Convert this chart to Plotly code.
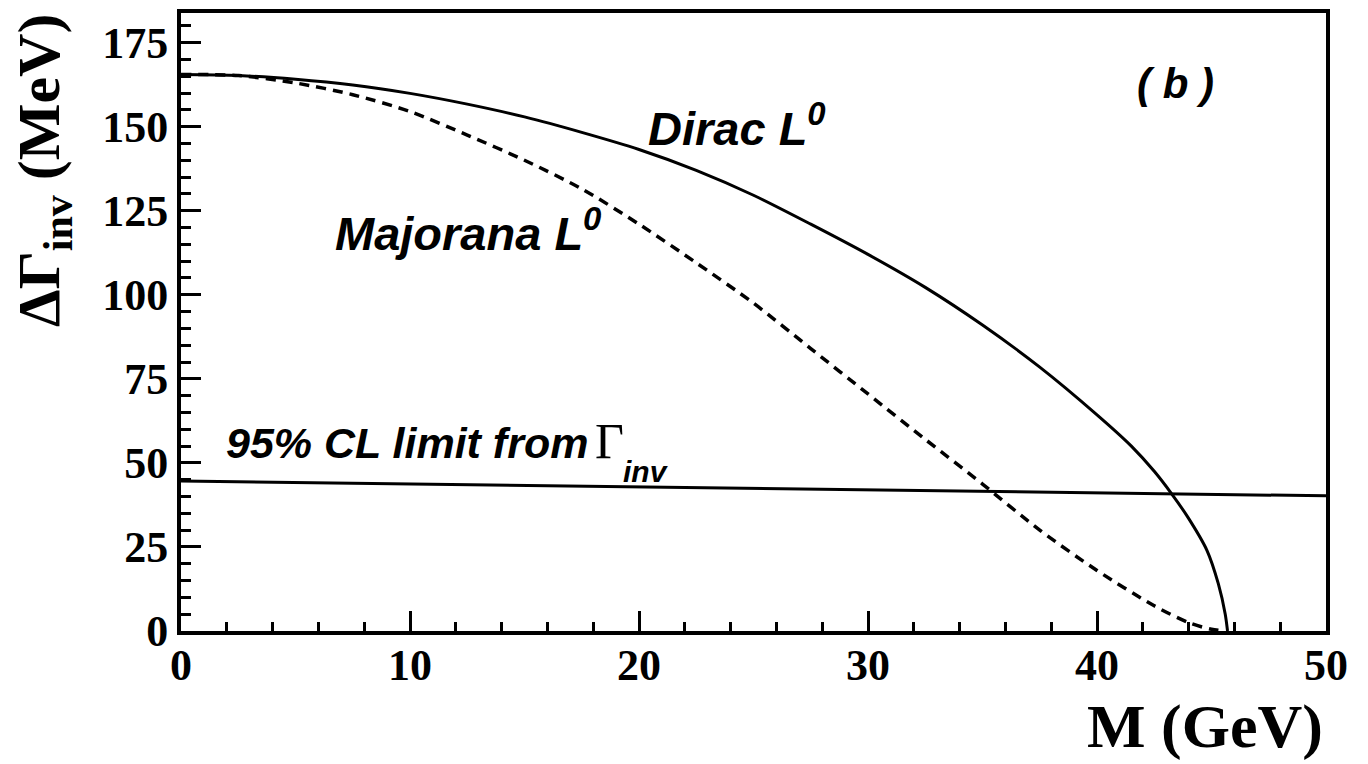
import plotly.graph_objects as go

# Shift of the Z invisible width from a new heavy neutral lepton of mass M
mass_dirac = [0, 2.5, 5, 7.5, 10, 12.5, 15, 17.5, 20, 22.5, 25, 27.5, 30, 32.5, 35, 37.5,
              40, 41.5, 42.5, 43.26, 44, 44.8, 45.3, 45.6, 45.7]
width_dirac = [165.5, 165.2, 164.1, 162.4, 159.9, 156.7, 152.9, 148.3, 143.2, 137.0, 129.6,
               121.0, 112.0, 102.2, 91.0, 78.5, 64.3, 55.0, 47.5, 40.8, 33.5, 24.0, 14.0, 5.0, 0.0]

mass_majorana = [0, 2.5, 5, 7.5, 10, 12.5, 15, 17.5, 20, 22.5, 25, 27.5, 30, 32.5, 35, 37.5,
                 40, 42.5, 44, 45, 45.6]
width_majorana = [165.5, 165.2, 163.0, 159.5, 154.5, 147.5, 140.0, 131.5, 121.0, 109.5, 97.5,
                  84.0, 70.5, 57.0, 43.7, 30.0, 18.0, 7.5, 2.5, 0.5, 0.0]

# 95% CL upper limit from the measured invisible width
limit_mass = [0, 50]
limit_width = [44.6, 40.2]

x_ticks = [0, 10, 20, 30, 40, 50]
y_ticks = [0, 25, 50, 75, 100, 125, 150, 175]

# plot area in pixels (for placing labels)
L, R, T, B = 181, 1326, 9, 631
W, H = 1368, 764


def px(x):
    return (x - L) / (R - L)


def py(y):
    return (B - y) / (B - T)


fig = go.Figure()
fig.add_trace(go.Scatter(x=mass_dirac, y=width_dirac, mode="lines",
                         line=dict(color="black", width=3, shape="spline", smoothing=0.8)))
fig.add_trace(go.Scatter(x=mass_majorana, y=width_majorana, mode="lines",
                         line=dict(color="black", width=3.5, dash="10px,7px", shape="spline", smoothing=0.8)))
fig.add_trace(go.Scatter(x=limit_mass, y=limit_width, mode="lines",
                         line=dict(color="black", width=3)))

serif = "Liberation Serif"
sans = "Liberation Sans"

fig.update_layout(
    width=W, height=H,
    margin=dict(l=L, r=W - R, t=T, b=H - B),
    paper_bgcolor="white", plot_bgcolor="white",
    showlegend=False,
)
fig.update_xaxes(
    range=[0, 50], tickvals=x_ticks, ticktext=[str(v) for v in x_ticks],
    ticks="inside", ticklen=20, tickwidth=3, tickcolor="black",
    minor=dict(dtick=2, ticks="inside", ticklen=9, tickwidth=3, tickcolor="black"),
    showline=True, linewidth=4, linecolor="black", mirror=True,
    showgrid=False, zeroline=False, ticklabelstandoff=-8,
    tickfont=dict(family=serif, size=44, color="black", weight="bold"),
)
fig.update_yaxes(
    range=[0, 183.8], tickvals=y_ticks, ticktext=[str(v) for v in y_ticks],
    ticks="inside", ticklen=20, tickwidth=3, tickcolor="black",
    minor=dict(dtick=5, ticks="inside", ticklen=10, tickwidth=3, tickcolor="black"),
    showline=True, linewidth=4, linecolor="black", mirror=True,
    showgrid=False, zeroline=False,
    tickfont=dict(family=serif, size=44, color="black", weight="bold"),
)

lab = dict(family=sans, size=47, color="black", weight="bold", style="italic")
ann = [
    dict(text="Dirac L<sup>0</sup>", x=px(646), y=py(154), xanchor="left", yanchor="bottom", font=lab),
    dict(text="Majorana L<sup>0</sup>", x=px(333), y=py(260), xanchor="left", yanchor="bottom", font=lab),
    dict(text="95% CL limit from", x=px(224), y=py(468), xanchor="left", yanchor="bottom",
         font=dict(family=sans, size=43, color="black", weight="bold", style="italic")),
    dict(text="\u0393", x=px(593), y=py(470), xanchor="left", yanchor="bottom",
         font=dict(family=serif, size=50, color="black")),
    dict(text="inv", x=px(621), y=py(489), xanchor="left", yanchor="bottom",
         font=dict(family=sans, size=30, color="black", weight="bold", style="italic")),
    dict(text="( b )", x=px(1175), y=py(80), xanchor="center", yanchor="middle",
         font=dict(family=sans, size=42, color="black", weight="bold", style="italic")),
    dict(text="M (GeV)", x=px(1325), y=py(764), xanchor="right", yanchor="bottom",
         font=dict(family=serif, size=62, color="black", weight="bold")),
    dict(text="\u0394\u0393<sub>inv</sub> (MeV)", x=px(44), y=py(168), xanchor="center", yanchor="middle",
         textangle=-90, font=dict(family=serif, size=60, color="black", weight="bold")),
]
for a in ann:
    a.update(xref="paper", yref="paper", showarrow=False)
fig.update_layout(annotations=ann)

fig.write_html("out.html")
